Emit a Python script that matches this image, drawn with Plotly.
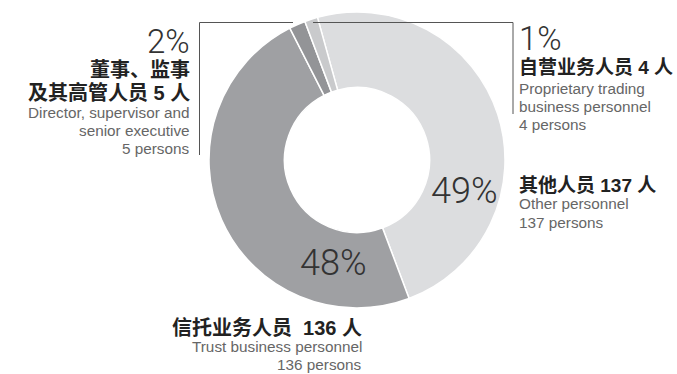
import plotly.graph_objects as go

# Staff composition (persons), clockwise from the top
labels_cn = ["其他人员", "信托业务人员", "董事、监事及其高管人员", "自营业务人员"]
labels_en = ["Other personnel", "Trust business personnel",
             "Director, supervisor and senior executive",
             "Proprietary trading business personnel"]
persons = [137, 136, 5, 4]
colors = ["#dcdddf", "#9fa0a3", "#939497", "#c9cacc"]

total = sum(persons)
pct = [f"{round(v / total * 100)}%" for v in persons]

W, H = 677, 374


def px(x):
    return x / W


def py(y):
    return 1 - y / H


fig = go.Figure(go.Pie(
    labels=labels_en,
    values=persons,
    sort=False,
    direction="clockwise",
    rotation=-15.5,
    hole=0.49,
    marker=dict(colors=colors, line=dict(color="white", width=1.5)),
    textinfo="none",
    hoverinfo="label+value+percent",
    showlegend=False,
    domain=dict(x=[px(357 - 148), px(357 + 148)], y=[py(160 + 148), py(160 - 148)]),
))

PCT_FONT = dict(family="Roboto, Liberation Sans, sans-serif", color="#333333", weight=300)
CN_FONT = dict(family="Liberation Sans, Noto Sans CJK SC, sans-serif", size=19,
               color="#222222", weight="bold")
EN_FONT = dict(family="Liberation Sans, Arial, sans-serif", size=15.3, color="#666666")

ann = []


def text(x, y, s, font, anchor, size=None):
    f = dict(font)
    if size:
        f["size"] = size
    ann.append(dict(x=px(x), y=py(y), xref="paper", yref="paper", text=s,
                    showarrow=False, xanchor=anchor, yanchor="middle", font=f))


# Percent labels inside the ring
text(464, 191, pct[0], PCT_FONT, "center", 36)
text(333, 263, pct[1], PCT_FONT, "center", 36)

# Director / supervisor block (left, right-aligned)
text(192, 41, pct[2], PCT_FONT, "right", 33)
text(192, 70, "董事、监事", CN_FONT, "right", 20)
text(192, 92, f"及其高管人员 {persons[2]} 人", CN_FONT, "right", 20)
text(192, 112.5, "Director, supervisor and", EN_FONT, "right")
text(192, 130.5, "senior executive", EN_FONT, "right")
text(192, 148.5, f"{persons[2]} persons", EN_FONT, "right")

# Proprietary trading block (top right)
text(517, 39, pct[3], PCT_FONT, "left", 33)
text(517, 67.5, f"自营业务人员 {persons[3]} 人", CN_FONT, "left")
text(517, 88, "Proprietary trading", EN_FONT, "left")
text(517, 106, "business personnel", EN_FONT, "left")
text(517, 124, f"{persons[3]} persons", EN_FONT, "left")

# Other personnel block (right)
text(517, 185, f"其他人员 {persons[0]} 人", CN_FONT, "left")
text(517, 204, labels_en[0], EN_FONT, "left")
text(517, 222, f"{persons[0]} persons", EN_FONT, "left")

# Trust business block (bottom)
text(364, 327.5, f"信托业务人员  {persons[1]} 人", CN_FONT, "right", 20)
text(364, 346.5, labels_en[1], EN_FONT, "right")
text(364, 364.5, f"{persons[1]} persons", EN_FONT, "right")

line = dict(color="#555555", width=1)
shapes = [
    # leader for the director slice
    dict(type="line", xref="paper", yref="paper", x0=px(199.5), y0=py(22.5), x1=px(293), y1=py(22.5), line=line),
    dict(type="line", xref="paper", yref="paper", x0=px(199.5), y0=py(22.5), x1=px(199.5), y1=py(155), line=line),
    # leader for the proprietary slice
    dict(type="line", xref="paper", yref="paper", x0=px(313), y0=py(22.5), x1=px(513), y1=py(22.5), line=line),
    dict(type="line", xref="paper", yref="paper", x0=px(513), y0=py(22.5), x1=px(513), y1=py(114), line=line),
]

fig.update_layout(
    width=W, height=H,
    margin=dict(l=0, r=0, t=0, b=0),
    paper_bgcolor="white",
    plot_bgcolor="white",
    annotations=ann,
    shapes=shapes,
)

fig.write_html("out.html")
